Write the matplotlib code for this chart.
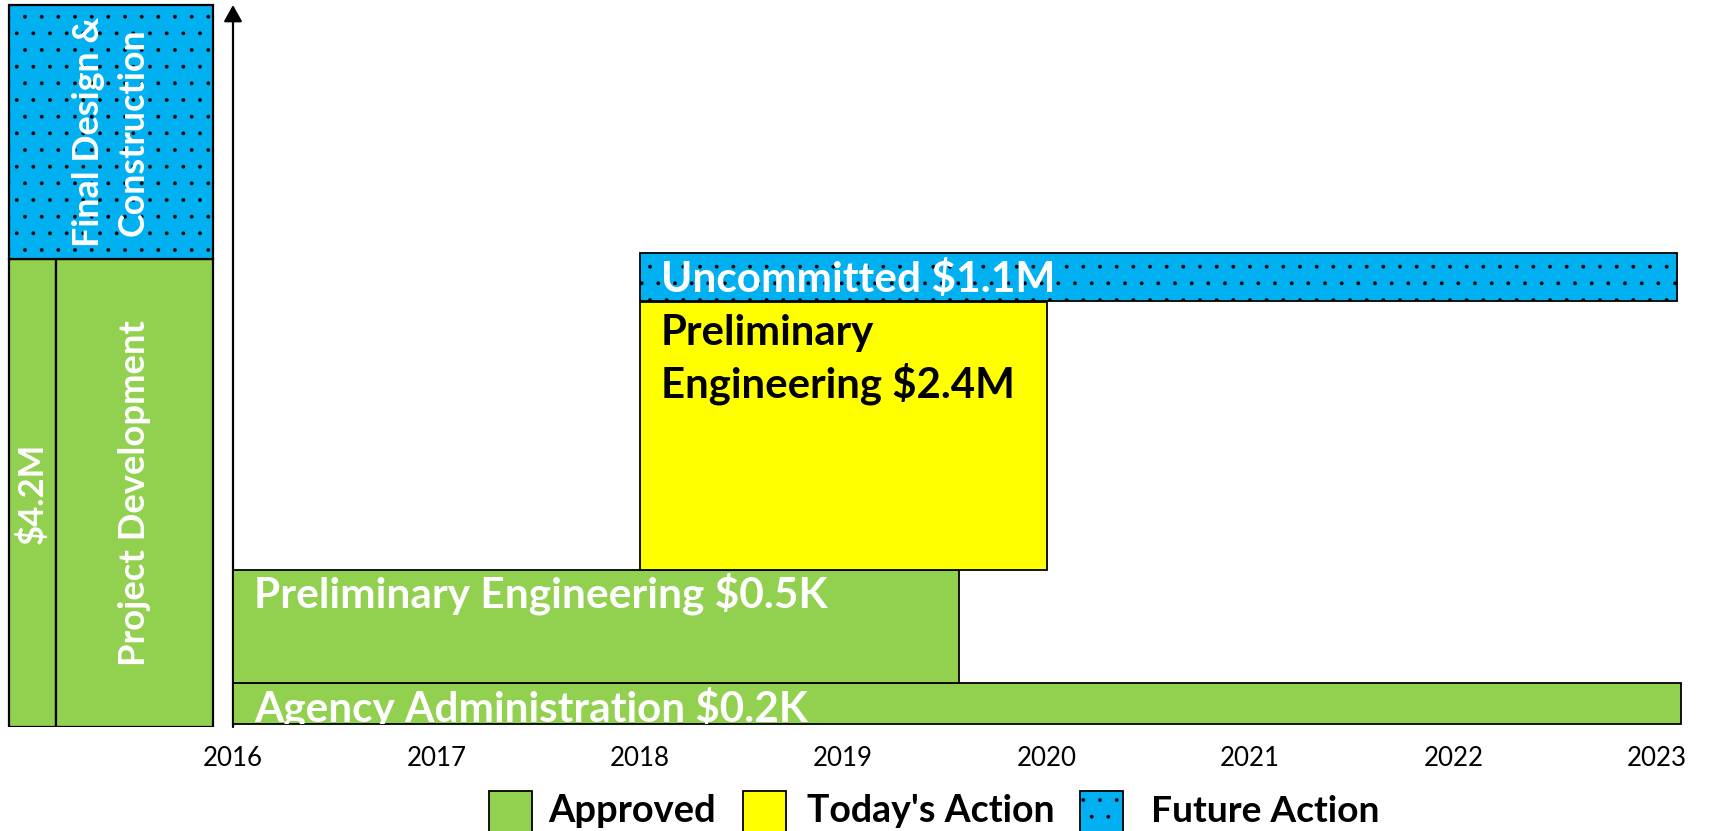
import matplotlib.pyplot as plt
from matplotlib.patches import Rectangle

plt.rcParams['font.family'] = ['Lato', 'DejaVu Sans']
plt.rcParams['hatch.linewidth'] = 0.3

# Timeline bars (years)
bar_labels = ['Agency Administration $0.2K', 'Preliminary Engineering $0.5K',
              'Preliminary\nEngineering $2.4M', 'Uncommitted $1.1M']
bar_status = ['Approved', 'Approved', "Today's Action", 'Future Action']
bar_start = [2016.0, 2016.0, 2018.0, 2018.0]
bar_end = [2023.12, 2019.57, 2020.0, 2023.10]
years = list(range(2016, 2024))

# Left summary blocks
side_labels = ['$4.2M', 'Project Development', 'Final Design &\nConstruction']
side_status = ['Approved', 'Approved', 'Future Action']

legend_labels = ['Approved', "Today's Action", 'Future Action']

# styles per status
fill = {'Approved': '#92D050', "Today's Action": '#FFFF00', 'Future Action': '#00B0F0'}
hatch = {'Approved': None, "Today's Action": None, 'Future Action': '.'}
text_col = {'Approved': 'white', "Today's Action": 'black', 'Future Action': 'white'}

# layout (lane positions on a 0-100 vertical scale, left block geometry)
lane_bottom = [0.4, 6.05, 21.6, 58.6]
lane_height = [5.65, 15.55, 36.9, 6.6]
text_drop = [38, 38, 96, 39]          # pixels from bar top to last baseline
text_width = [555, 574, 355, 395]     # target text widths in pixels
side_x = [3.9, 24.0, 3.9]
side_w = [20.1, 67.4, 87.5]
side_y = [0, 0, 64.4]
side_h = [64.4, 64.4, 34.95]
side_len = [101, 346, 231]

W, H = 1714, 831
fig = plt.figure(figsize=(W / 100, H / 100), dpi=100)
px_per_year = 203.4

ax = fig.add_axes([233 / W, 104 / H, (W - 233) / W, 727 / H])
ax.set_xlim(2016, 2016 + (W - 233) / px_per_year)
ax.set_ylim(0, 100)
for s in ax.spines.values():
    s.set_visible(False)
ax.set_yticks([])
ax.set_xticks(years)
ax.set_xticklabels([str(y) for y in years], fontsize=19)
ax.tick_params(axis='x', length=0, pad=14)

# vertical axis arrow
ax.annotate('', xy=(2016, 99.3), xytext=(2016, 0),
            arrowprops=dict(arrowstyle='-|>,head_length=0.5,head_width=0.28',
                            color='black', lw=1.6, shrinkA=0, shrinkB=0,
                            mutation_scale=20),
            annotation_clip=False, zorder=1)

bar_texts = []
for lab, st, x0, x1, yb, h, drop in zip(bar_labels, bar_status, bar_start, bar_end,
                                        lane_bottom, lane_height, text_drop):
    r = Rectangle((x0, yb), x1 - x0, h, facecolor=fill[st], edgecolor='black',
                  lw=1.3, hatch=hatch[st], zorder=2)
    ax.add_patch(r)
    t = ax.annotate(lab, xy=(x0, yb + h), xytext=(15, -drop * 0.72),
                    textcoords='offset points', ha='left', va='baseline',
                    fontsize=23, fontweight='bold', color=text_col[st],
                    linespacing=1.3, zorder=3)
    t.set_clip_path(r)
    bar_texts.append(t)

# left blocks
axl = fig.add_axes([0, 104 / H, 233 / W, 727 / H])
axl.set_xlim(0, 100)
axl.set_ylim(0, 100)
axl.axis('off')
side_texts = []
for lab, st, x, w, y, h in zip(side_labels, side_status, side_x, side_w, side_y, side_h):
    axl.add_patch(Rectangle((x, y), w, h, facecolor=fill[st], edgecolor='black',
                            lw=1.6, hatch=hatch[st]))
    t = axl.text(x + w / 2, y + h / 2, lab, rotation=90, ha='center', va='center',
                 multialignment='center', color='white', fontsize=28,
                 linespacing=1.45, fontweight='bold')
    side_texts.append(t)

# legend
box_x = [489, 743, 1080]
txt_x = [548, 807, 1151]
leg_w = [168, 249, 229]
leg_texts = []
for lab, bx, tx in zip(legend_labels, box_x, txt_x):
    fig.patches.append(Rectangle((bx / W, 1 - 840 / H), 43 / W, 49 / H,
                                 transform=fig.transFigure, facecolor=fill[lab],
                                 edgecolor='black', lw=1.3, hatch=hatch[lab]))
    leg_texts.append(fig.text(tx / W, 1 - 811 / H, lab, ha='left', va='center',
                              fontsize=23, fontweight='bold'))

# scale text sizes to the widths measured on the reference
fig.canvas.draw()
rend = fig.canvas.get_renderer()


def fit(t, target, vertical=False):
    bb = t.get_window_extent(rend)
    size = bb.height if vertical else bb.width
    t.set_fontsize(t.get_fontsize() * target / size)


for t, w in zip(bar_texts, text_width):
    fit(t, w)
for t, w in zip(side_texts, side_len):
    fit(t, w, vertical=True)
for t, w in zip(leg_texts, leg_w):
    fit(t, w)
fit(ax.get_xticklabels()[0], 60)
ax.tick_params(axis='x', labelsize=ax.get_xticklabels()[0].get_fontsize())

fig.savefig('out.png', dpi=100)
